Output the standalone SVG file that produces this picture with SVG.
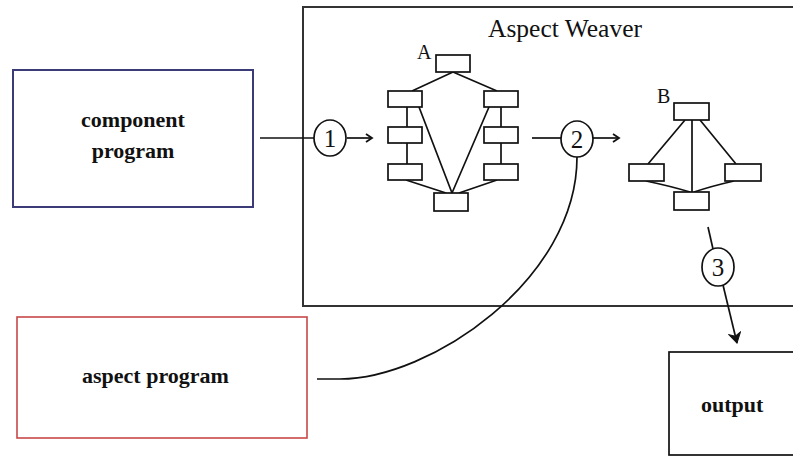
<svg xmlns="http://www.w3.org/2000/svg" width="793" height="457" viewBox="0 0 793 457">
<defs>
<style>
.ln{fill:none;stroke:#111;stroke-width:1.7}
.bx{fill:#fff;stroke:#111;stroke-width:1.7}
.lbl{font-family:"Liberation Serif","Times New Roman",serif;fill:#111}
.bold{font-family:"Liberation Serif","Times New Roman",serif;font-weight:bold;font-size:22px;fill:#111}
.num{font-family:"Liberation Serif","Times New Roman",serif;font-size:25px;fill:#111;text-anchor:middle}
</style>
<marker id="chev" markerWidth="12" markerHeight="12" refX="10" refY="6" orient="auto" markerUnits="userSpaceOnUse">
<path d="M4,2 L10,6 L4,10" fill="none" stroke="#111" stroke-width="1.8"/>
</marker>
<marker id="tri" markerWidth="14" markerHeight="14" refX="12" refY="7" orient="auto" markerUnits="userSpaceOnUse">
<path d="M2,1 L12,7 L2,13 L5,7 Z" fill="#111" stroke="#111" stroke-width="1"/>
</marker>
</defs>
<rect width="793" height="457" fill="#fff"/>

<g id="weaver">
<rect x="303" y="7" width="500" height="299" fill="none" stroke="#333" stroke-width="2"/>
<text class="lbl" x="488" y="37" font-size="25.5">Aspect Weaver</text>
</g>

<g id="component">
<rect x="13" y="70" width="240" height="137" fill="#fff" stroke="#3b3b78" stroke-width="2"/>
<text class="bold" x="133" y="127" text-anchor="middle">component</text>
<text class="bold" x="133" y="158" text-anchor="middle">program</text>
</g>

<g id="aspect">
<rect x="17" y="317" width="290" height="121" fill="#fff" stroke="#c84848" stroke-width="1.6"/>
<text class="bold" x="82" y="383">aspect program</text>
</g>

<g id="output">
<rect x="669" y="352" width="140" height="103" fill="#fff" stroke="#111" stroke-width="1.7"/>
<text class="bold" x="701" y="412">output</text>
</g>

<g id="graphA">
<text class="lbl" x="417" y="59" font-size="20">A</text>
<path class="ln" d="M453,72 L412,91 M453,72 L497,91 M407,107 V127 M407,143 V164 M501,107 V127 M501,143 V164 M419,107 L452,193 M489,107 L452,193 M406,180 L446,193 M497,180 L459,193"/>
<rect class="bx" x="436" y="55" width="34" height="17"/>
<rect class="bx" x="388" y="91" width="34" height="16"/>
<rect class="bx" x="388" y="127" width="34" height="16"/>
<rect class="bx" x="388" y="164" width="34" height="16"/>
<rect class="bx" x="484" y="91" width="34" height="16"/>
<rect class="bx" x="484" y="127" width="34" height="16"/>
<rect class="bx" x="484" y="164" width="34" height="16"/>
<rect class="bx" x="434" y="193" width="34" height="18"/>
</g>

<g id="graphB">
<text class="lbl" x="657" y="103" font-size="20">B</text>
<path class="ln" d="M685,120 L648,164 M700,120 L736,164 M692,120 V192 M646,181 Q670,186 690,192 M734,181 Q712,186 694,192"/>
<rect class="bx" x="674" y="103" width="35" height="17"/>
<rect class="bx" x="629" y="164" width="35" height="17"/>
<rect class="bx" x="725" y="164" width="36" height="17"/>
<rect class="bx" x="674" y="192" width="35" height="18"/>
</g>

<g id="connectors">
<path class="ln" d="M260,138 H314"/>
<path class="ln" d="M347,138 H372" marker-end="url(#chev)"/>
<path class="ln" d="M532,138 H561"/>
<path class="ln" d="M593,138 H619" marker-end="url(#chev)"/>
<path class="ln" d="M317,379 H340 C430,379 577,280 577,157"/>
<path class="ln" d="M708,227 L713,249"/>
<path class="ln" d="M723,285 L737,343" marker-end="url(#tri)"/>
</g>

<g id="step1">
<ellipse cx="330" cy="138" rx="16" ry="18" fill="#fff" stroke="#111" stroke-width="1.7"/>
<text class="num" x="330" y="147">1</text>
</g>
<g id="step2">
<ellipse cx="577" cy="139" rx="16" ry="18" fill="#fff" stroke="#111" stroke-width="1.7"/>
<text class="num" x="577" y="148">2</text>
</g>
<g id="step3">
<ellipse cx="718" cy="267" rx="16" ry="19" fill="#fff" stroke="#111" stroke-width="1.7"/>
<text class="num" x="718" y="276">3</text>
</g>
</svg>
